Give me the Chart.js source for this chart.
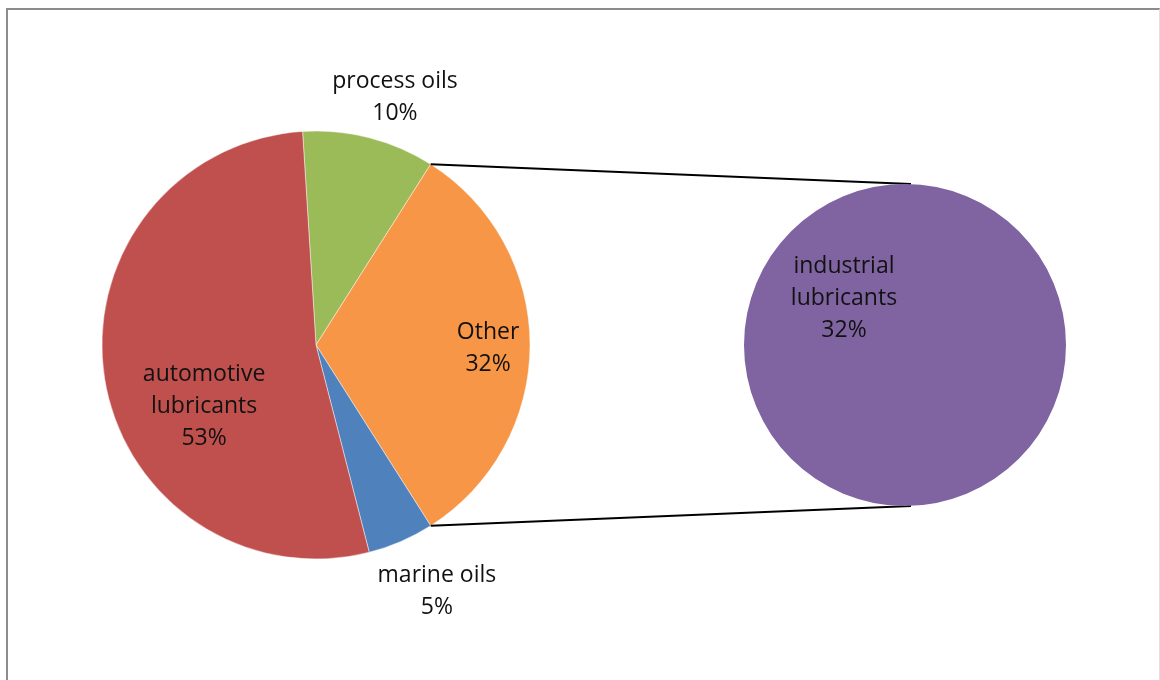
<!DOCTYPE html>
<html>
<head>
<meta charset="utf-8">
<script src="https://cdn.jsdelivr.net/npm/chart.js@4.4.1/dist/chart.umd.min.js"></script>
<style>
  html, body { margin: 0; padding: 0; background: #fff; overflow: hidden; }
  #wrap { position: relative; width: 1160px; height: 680px; }
  #frame { position: absolute; left: 6px; top: 8px; width: 1151px; height: 700px;
           border-left: 2px solid #8c8c8c; border-top: 2px solid #8c8c8c; border-right: 1px solid #e0e0e0; }
  canvas { position: absolute; left: 0; top: 0; }
</style>
</head>
<body>
<div id="wrap">
  <div id="frame"></div>
  <canvas id="mainPie" width="1160" height="680"></canvas>
  <canvas id="subPie" width="1160" height="680"></canvas>
</div>
<script>
// Lubricant market split: main pie, with "Other" broken out into a secondary pie
const mainLabels = [['process oils'], ['Other'], ['marine oils'], ['automotive', 'lubricants']];
const mainValues = [10, 32, 5, 53];
const mainColors = ['#9BBB59', '#F79646', '#4F81BD', '#C0504D'];

const subLabels = [['industrial', 'lubricants']];
const subValues = [32];
const subColors = ['#8064A2'];

const FONT = '23px "Open Sans", "DejaVu Sans", sans-serif';
const LINE_H = 32;

// label anchor, as a fraction of the outer radius from the pie centre
const mainLabelPos = [[0.369, -1.155], [0.804, 0.014], [0.565, 1.15], [-0.523, 0.289]];
const subLabelPos = [[-0.379, -0.292]];

function labelPlugin(id, posList) {
  return {
    id: id,
    afterDraw(chart) {
      const ctx = chart.ctx;
      const ds = chart.data.datasets[0];
      const arcs = chart.getDatasetMeta(0).data;
      ctx.save();
      ctx.font = FONT;
      ctx.fillStyle = '#111';
      ctx.textAlign = 'center';
      ctx.textBaseline = 'middle';
      arcs.forEach((arc, i) => {
        const lines = chart.data.labels[i].concat([ds.data[i] + '%']);
        const cx = arc.x + posList[i][0] * arc.outerRadius;
        const cy = arc.y + posList[i][1] * arc.outerRadius;
        const top = cy - (lines.length - 1) * LINE_H / 2;
        lines.forEach((t, k) => ctx.fillText(t, cx, top + k * LINE_H));
      });
      ctx.restore();
    }
  };
}

const total = mainValues.reduce((a, b) => a + b, 0);
// turn the main pie so that the "Other" slice faces the secondary pie
const mainRotation = 90 - 360 * (mainValues[0] + mainValues[1] / 2) / total;

const baseOpts = {
  responsive: false,
  animation: false,
  events: [],
  plugins: { legend: { display: false }, tooltip: { enabled: false } }
};

const mainChart = new Chart(document.getElementById('mainPie'), {
  type: 'pie',
  data: {
    labels: mainLabels,
    datasets: [{ data: mainValues, backgroundColor: mainColors,
                 borderColor: 'rgba(255,255,255,0.45)', borderWidth: 1 }]
  },
  options: Object.assign({}, baseOpts, {
    rotation: mainRotation,
    radius: 214,
    layout: { padding: { left: 0, right: 528, top: 10, bottom: 0 } }
  }),
  plugins: [labelPlugin('mainLabels', mainLabelPos)]
});

// connector lines from the "Other" slice edges to the secondary pie
const connectorPlugin = {
  id: 'connectors',
  beforeDatasetsDraw(chart) {
    const other = mainChart.getDatasetMeta(0).data[1];
    const sub = chart.getDatasetMeta(0).data[0];
    const ctx = chart.ctx;
    const ends = [
      [other.startAngle, -Math.PI / 2 + 0.037],
      [other.endAngle, Math.PI / 2 - 0.037]
    ];
    ctx.save();
    ctx.strokeStyle = '#000';
    ctx.lineWidth = 2;
    ends.forEach(([a0, a1]) => {
      ctx.beginPath();
      ctx.moveTo(other.x + other.outerRadius * Math.cos(a0), other.y + other.outerRadius * Math.sin(a0));
      ctx.lineTo(sub.x + sub.outerRadius * Math.cos(a1), sub.y + sub.outerRadius * Math.sin(a1));
      ctx.stroke();
    });
    ctx.restore();
  }
};

new Chart(document.getElementById('subPie'), {
  type: 'pie',
  data: {
    labels: subLabels,
    datasets: [{ data: subValues, backgroundColor: subColors, borderWidth: 0 }]
  },
  options: Object.assign({}, baseOpts, {
    radius: 161,
    layout: { padding: { left: 650, right: 0, top: 10, bottom: 0 } }
  }),
  plugins: [connectorPlugin, labelPlugin('subLabels', subLabelPos)]
});
</script>
</body>
</html>
